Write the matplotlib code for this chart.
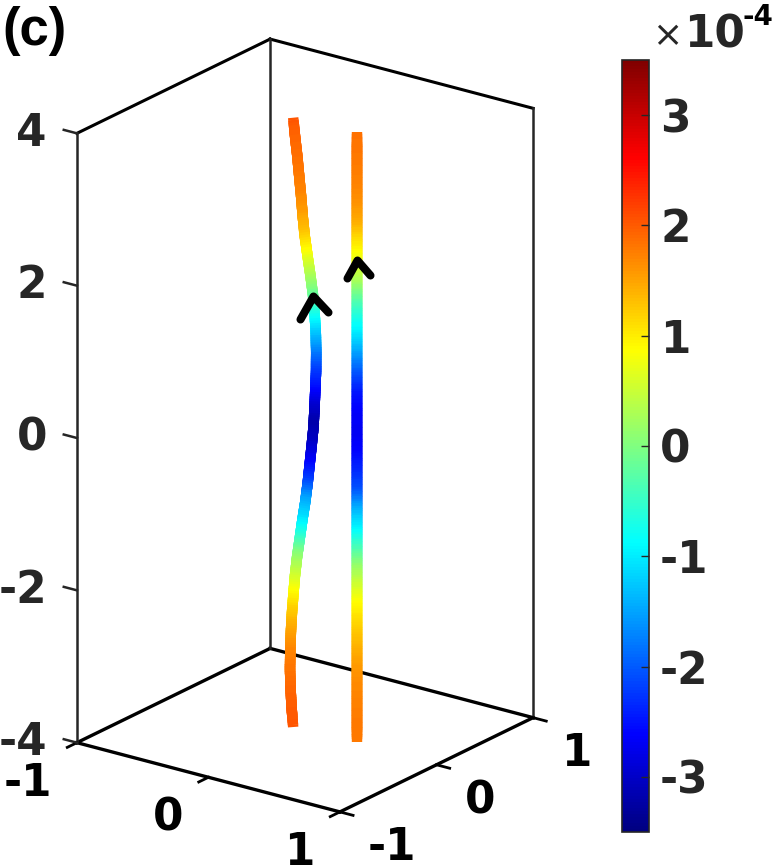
import numpy as np
import matplotlib
matplotlib.use('Agg')
import matplotlib.pyplot as plt
from matplotlib import colors
from matplotlib.path import Path
from matplotlib.markers import MarkerStyle
from mpl_toolkits.mplot3d.art3d import Line3DCollection

# samples along the two tubes (z from top to bottom)
z_pts = [4.0, 3.75, 3.5, 3.25, 3.0, 2.75, 2.5, 2.25, 2.0, 1.75, 1.5, 1.25, 1.0,
         0.75, 0.5, 0.25, 0.0, -0.25, -0.5, -0.75, -1.0, -1.25, -1.5, -1.75,
         -2.0, -2.25, -2.5, -2.75, -3.0, -3.25, -3.5, -3.75, -4.0]

# left tube: bent in x
left_x = [-0.09, -0.075, -0.058, -0.044, -0.03, -0.018, -0.003, 0.018, 0.04,
          0.06, 0.073, 0.082, 0.085, 0.084, 0.078, 0.072, 0.064, 0.05, 0.035,
          0.02, 0.002, -0.02, -0.04, -0.06, -0.076, -0.088, -0.099, -0.107,
          -0.112, -0.114, -0.11, -0.102, -0.09]
left_y = 0.0
# colour value along the left tube (x 1e-4)
left_val = [2.05, 1.95, 1.88, 1.8, 1.72, 1.55, 1.3, 0.85, 0.4, -0.05, -0.6,
            -1.15, -1.65, -2.15, -2.5, -2.95, -3.2, -3.0, -2.65, -2.2, -1.5,
            -1.1, -0.6, 0.05, 0.45, 0.85, 1.2, 1.45, 1.68, 1.8, 1.9, 1.98, 2.05]

# right tube: straight
right_x = 0.37
right_y = 0.03
right_val = [1.85, 1.82, 1.78, 1.72, 1.62, 1.42, 1.05, 0.7, 0.3, -0.25, -0.7,
             -1.1, -1.6, -2.1, -2.5, -2.65, -2.7, -2.6, -2.35, -2.05, -1.4,
             -0.95, -0.4, 0.15, 0.55, 0.9, 1.15, 1.35, 1.52, 1.66, 1.72, 1.78, 1.8]

# arrow heads (apex points on the tubes)
arrow_x = [0.058, 0.37]
arrow_y = [0.0, 0.03]
arrow_z = [1.72, 2.32]

x_ticks = [-1, 0, 1]
y_ticks = [-1, 0, 1]
z_ticks = [-4, -2, 0, 2, 4]
cbar_ticks = [-3, -2, -1, 0, 1, 2, 3]
clim = (-3.5e-4, 3.5e-4)

tick_font = dict(family='DejaVu Sans', weight='bold', size=31.5)
gray = '#262626'

# matlab style jet
jet = colors.LinearSegmentedColormap.from_list(
    'mjet', [(0, (0, 0, 0.5)), (1 / 8, (0, 0, 1)), (3 / 8, (0, 1, 1)),
             (5 / 8, (1, 1, 0)), (7 / 8, (1, 0, 0)), (1, (0.5, 0, 0))], N=256)
norm = colors.Normalize(*clim)

fig = plt.figure(figsize=(7.79, 8.68), dpi=100)
W = 776.0
ax = fig.add_axes([(305 - 0.5135 * W) / 779, (442.5 - 0.5135 * W) / 868,
                   W / 779, W / 868], projection='3d', proj_type='ortho')
ax.set_xlim(-1, 1)
ax.set_ylim(-1, 1)
ax.set_zlim(-4, 4)
ax.set_box_aspect((1, 1, 2))
ax.view_init(elev=21, azim=-53.7)
ax.set_axis_off()
ax.computed_zorder = False

xl, yl, zl = ax.get_xlim(), ax.get_ylim(), ax.get_zlim()


def line(xs, ys, zs, **kw):
    ax.plot(xs, ys, zs, clip_on=False, **kw)


# box edges (back panes only, like matlab)
for yy in yl:
    line(xl, [yy, yy], [zl[0], zl[0]], color='k', lw=2.4, zorder=1,
         solid_capstyle='projecting')
for xx in xl:
    line([xx, xx], yl, [zl[0], zl[0]], color='k', lw=2.4, zorder=1,
         solid_capstyle='projecting')
line(xl, [yl[1], yl[1]], [zl[1], zl[1]], color='k', lw=2.2, zorder=1)
line([xl[0], xl[0]], yl, [zl[1], zl[1]], color='k', lw=2.2, zorder=1)
for xx, yy in [(xl[0], yl[0]), (xl[0], yl[1]), (xl[1], yl[1])]:
    line([xx, xx], [yy, yy], zl, color=gray, lw=1.8, zorder=1)

# ticks
tl = 0.1
for t in x_ticks:
    line([t, t], [yl[0], yl[0] - tl], [zl[0], zl[0]], color='k', lw=2, zorder=1)
for t in y_ticks:
    line([xl[1], xl[1] + tl], [t, t], [zl[0], zl[0]], color='k', lw=2, zorder=1)
for t in z_ticks:
    line([xl[0], xl[0] - tl], [yl[0], yl[0]], [t, t], color=gray, lw=1.8, zorder=1)

# tick labels: project the 3d tick position, then shift in pixels
M = ax.get_proj()


def label(x, y, z, s, dx, dy, **kw):
    v = M @ np.array([x, y, z, 1.0])
    ax.annotate(s, xy=(v[0] / v[3], v[1] / v[3]), xycoords='data',
                xytext=(dx, dy), textcoords='offset pixels',
                annotation_clip=False, **tick_font, **kw)


for t in x_ticks:
    label(t, yl[0], zl[0], str(t), -25, -41, ha='right', va='center', color='k')
for t in y_ticks:
    label(xl[1], t, zl[0], str(t), 28, -36, ha='left', va='center', color='k')
for t in z_ticks:
    label(xl[0], yl[0], t, str(t), -30, 0, ha='right', va='center', color=gray)

# tubes, colour shaded between the samples (like shading interp)
nsub = 8
frac = np.linspace(0, 1, nsub + 1)
for xs, ys, vals in [(left_x, left_y, left_val), (right_x, right_y, right_val)]:
    xs = np.broadcast_to(np.asarray(xs, float), (len(z_pts),))
    ys = np.broadcast_to(np.asarray(ys, float), (len(z_pts),))
    pts = np.column_stack([xs, ys, z_pts])
    v = np.asarray(vals) * 1e-4
    segs, cols = [], []
    for i in range(len(pts) - 1):
        sub = pts[i] + frac[:, None] * (pts[i + 1] - pts[i])
        sv = v[i] + frac * (v[i + 1] - v[i])
        for k in range(nsub):
            segs.append(sub[k:k + 2])
            cols.append(0.5 * (sv[k] + sv[k + 1]))
    rgba = jet(norm(np.array(cols)))
    # ends flat, inner pieces overlap a little so no seams show
    ne = 3
    end_idx = list(range(ne)) + list(range(len(segs) - ne, len(segs)))
    ends = Line3DCollection([segs[j] for j in end_idx], colors=rgba[end_idx],
                            linewidths=7.5, capstyle='butt', zorder=2)
    inner = Line3DCollection(segs[ne:-ne], colors=rgba[ne:-ne],
                             linewidths=7.5, capstyle='projecting', zorder=2)
    for lc in (inner, ends):
        lc.set_clip_on(False)
        ax.add_collection3d(lc)

# arrow heads as chevron markers
chevrons = [[(-13, -23), (0, 0), (15, -16)], [(-10, -18), (0, 0), (13, -15)]]
for i, verts in enumerate(chevrons):
    p = Path(verts, [Path.MOVETO, Path.LINETO, Path.LINETO])
    m = MarkerStyle(p, capstyle='round', joinstyle='round')
    ms = 1.44 * np.max(np.abs(verts))
    ax.plot([arrow_x[i]], [arrow_y[i]], [arrow_z[i]], marker=m, ms=ms,
            mfc='none', mec='k', mew=5.8, ls='none', zorder=3, clip_on=False)

# colorbar
cax = fig.add_axes([622 / 779, 36 / 868, 27 / 779, 772 / 868])
sm = plt.cm.ScalarMappable(norm=norm, cmap=jet)
cb = fig.colorbar(sm, cax=cax)
cb.set_ticks([t * 1e-4 for t in cbar_ticks])
cb.set_ticklabels([str(t) for t in cbar_ticks])
cax.tick_params(direction='in', length=6, width=1, color=gray, pad=8,
                labelcolor=gray)
for lab in cax.get_yticklabels():
    lab.set_fontweight('bold')
    lab.set_fontsize(31.5)
cb.outline.set_edgecolor(gray)
cb.outline.set_linewidth(1.2)

# exponent above colorbar
fig.text(667 / 779, 1 - 36 / 868, '\u00d7', ha='center', va='center',
         fontsize=26, color=gray, family='DejaVu Sans')
fig.text(684 / 779, 1 - 47 / 868, '10', ha='left', va='baseline',
         color=gray, **tick_font)
fig.text(742 / 779, 1 - 25 / 868, '-4', ha='left', va='baseline',
         color='k', family='DejaVu Sans', weight='bold', size=20)

fig.text(2 / 779, 1 - 6 / 868, '(c)', ha='left', va='top', family='Liberation Sans',
         weight='bold', size=38)

fig.savefig('out.png', dpi=100, facecolor='white')
